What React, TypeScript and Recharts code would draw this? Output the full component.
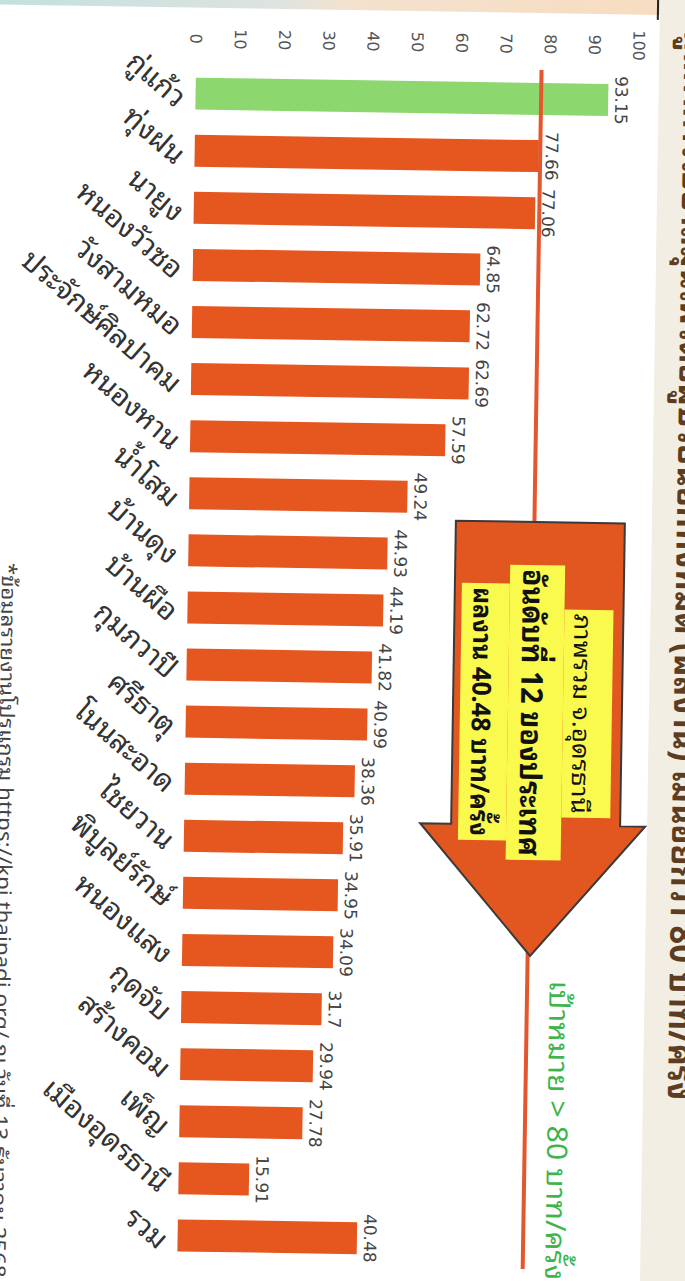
import React from 'react';
import { BarChart, Bar, XAxis, YAxis, Cell, LabelList, ReferenceLine } from 'recharts';

const districts = [
  'กู่แก้ว', 'ทุ่งฝน', 'นายูง', 'หนองวัวซอ', 'วังสามหมอ', 'ประจักษ์ศิลปาคม', 'หนองหาน',
  'น้ำโสม', 'บ้านดุง', 'บ้านผือ', 'กุมภวาปี', 'ศรีธาตุ', 'โนนสะอาด', 'ไชยวาน',
  'พิบูลย์รักษ์', 'หนองแสง', 'กุดจับ', 'สร้างคอม', 'เพ็ญ', 'เมืองอุดรธานี', 'รวม',
];
const values = [
  93.15, 77.66, 77.06, 64.85, 62.72, 62.69, 57.59,
  49.24, 44.93, 44.19, 41.82, 40.99, 38.36, 35.91,
  34.95, 34.09, 31.7, 29.94, 27.78, 15.91, 40.48,
];
const passed = [true, false, false, false, false, false, false, false, false, false, false,
  false, false, false, false, false, false, false, false, false, false];
const valueTicks = [0, 10, 20, 30, 40, 50, 60, 70, 80, 90, 100];
const targetLine = 78;

const titleText = 'มูลค่าการใช้ยาสมุนไพรต่อผู้ป่วยนอกทั้งหมด (ผลงาน) ไม่น้อยกว่า 80 บาท/ครั้ง';
const targetText = 'เป้าหมาย > 80 บาท/ครั้ง';
const boxLine1 = 'ภาพรวม จ.อุดรธานี';
const boxLine2 = 'อันดับที่ 12 ของประเทศ';
const boxLine3 = 'ผลงาน 40.48 บาท/ครั้ง';
const footnote = '*ข้อมูลรายงานโปรแกรม https://kpi.thaipadi.org/ ณ วันที่ 13 ธันวาคม 2568';

const data = districts.map((name, i) => ({ name, value: values[i], ok: passed[i] }));

const THAI = "'Noto Sans Thai Looped', 'Noto Sans Thai', Loma, Garuda, Kinnari, Tahoma, 'DejaVu Sans', sans-serif";
const NUM = "'DejaVu Sans', Verdana, sans-serif";
const ORANGE = '#E6561F';
const GREEN = '#8CD76E';

const CatTick = (props: any) => {
  const { x, y, payload } = props;
  const ax = x + 16;
  const ay = y + 12;
  return (
    <text x={ax} y={ay} transform={`rotate(-50 ${ax} ${ay})`} textAnchor="end"
      fontSize={29} fill="#333" fontFamily={THAI}>
      {payload.value}
    </text>
  );
};

const ValTick = (props: any) => {
  const { y, payload } = props;
  return (
    <text x={41} y={y} dy={6} textAnchor="middle" fontSize={16} fill="#555" fontFamily={NUM}>
      {payload.value}
    </text>
  );
};

export default function App() {
  const W = 1281;
  const H = 685;
  const P = 50;
  return (
    <div style={{ position: 'fixed', left: 0, top: 0, width: 685, height: 1281, overflow: 'hidden', background: '#fff' }}>
      <div style={{
        position: 'absolute', width: W + 2 * P, height: H + 2 * P,
        left: (685 - (W + 2 * P)) / 2, top: (1281 - (H + 2 * P)) / 2,
        transform: 'rotate(90.9deg)', transformOrigin: '50% 50%',
      }}>
        <svg width={W + 2 * P} height={H + 2 * P} viewBox={`${-P} ${-P} ${W + 2 * P} ${H + 2 * P}`}
          style={{ position: 'absolute', left: 0, top: 0 }}>
          <defs>
            <linearGradient id="edge" x1="0" y1="0" x2="0" y2="1">
              <stop offset="0" stopColor="#f7dcc0" />
              <stop offset="0.45" stopColor="#f3e2cf" />
              <stop offset="0.55" stopColor="#dde3e0" />
              <stop offset="1" stopColor="#bfe0df" />
            </linearGradient>
          </defs>
          <rect x={-P} y={-P} width={W + 2 * P} height={H + 2 * P} fill="#ffffff" />
          <rect x={-P} y={35} width={P + 10} height={H + P - 35} fill="url(#edge)" />
          <rect x={-P} y={-P} width={W + 2 * P} height={P + 35} fill="#f3eee4" />
          <line x1={-P} y1={37} x2={15} y2={37} stroke="#222" strokeWidth={2} />
        </svg>
        <div style={{ position: 'absolute', left: P, top: P }}>
          <BarChart width={W} height={H} data={data} margin={{ top: 55, right: 15, bottom: 0, left: 0 }}>
            <XAxis dataKey="name" interval={0} tickLine={false} axisLine={false} height={187} tick={<CatTick />} />
            <YAxis domain={[0, 100]} ticks={valueTicks} width={67} tickLine={false} axisLine={false} tick={<ValTick />} />
            <Bar dataKey="value" barSize={32} isAnimationActive={false}>
              {data.map((d) => (
                <Cell key={d.name} fill={d.ok ? GREEN : ORANGE} />
              ))}
              <LabelList dataKey="value" position="top" offset={7} fontSize={17} fill="#444" fontFamily={NUM} />
            </Bar>
            <ReferenceLine y={targetLine} stroke="#E4572E" strokeWidth={4} />
          </BarChart>
        </div>
        <svg width={W + 2 * P} height={H + 2 * P} viewBox={`${-P} ${-P} ${W + 2 * P} ${H + 2 * P}`}
          style={{ position: 'absolute', left: 0, top: 0, pointerEvents: 'none' }}>
          <text x={25} y={10} fontSize={36} fontWeight="bold" fill="#5c3d22" fontFamily={THAI}
            textLength={1070} lengthAdjust="spacingAndGlyphs">{titleText}</text>
          <polygon points="519,62 822,62 822,37 953,150 822,262 822,231 519,231"
            fill="#E2561F" stroke="#3a3a3a" strokeWidth={2} />
          <rect x={606} y={72} width={208} height={49} fill="#FAFA4E" />
          <rect x={562} y={121} width={295} height={55} fill="#FAFA4E" />
          <rect x={581} y={176} width={257} height={48} fill="#FAFA4E" />
          <text x={610} y={111} fontSize={24} fill="#111" fontFamily={THAI}
            textLength={200} lengthAdjust="spacingAndGlyphs">{boxLine1}</text>
          <text x={566} y={163} fontSize={30} fontWeight="bold" fill="#111" fontFamily={THAI}
            textLength={287} lengthAdjust="spacingAndGlyphs">{boxLine2}</text>
          <text x={585} y={212} fontSize={26} fontWeight="bold" fill="#111" fontFamily={THAI}
            textLength={249} lengthAdjust="spacingAndGlyphs">{boxLine3}</text>
          <text x={977} y={130} fontSize={28} fill="#3DB54A" fontFamily={THAI}
            textLength={300} lengthAdjust="spacingAndGlyphs">{targetText}</text>
          <text x={568} y={684} fontSize={20} fill="#444" fontFamily={THAI}
            textLength={715} lengthAdjust="spacingAndGlyphs">{footnote}</text>
        </svg>
      </div>
    </div>
  );
}
